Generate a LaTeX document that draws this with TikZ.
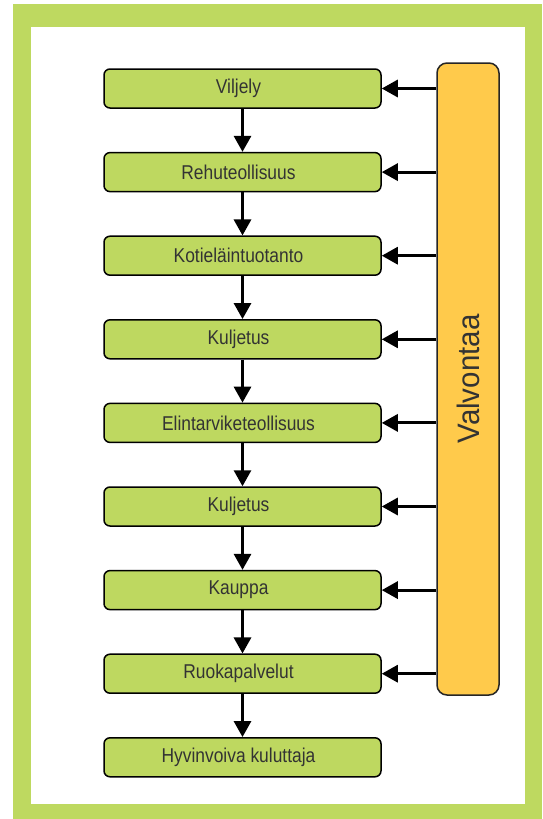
\documentclass[tikz,border=0pt]{standalone}
\usepackage{fontspec}
\setmainfont{Liberation Sans}[FakeStretch=0.87]
\newfontfamily\ctrlfont{Liberation Sans}[FakeStretch=0.95]
\usetikzlibrary{arrows.meta,positioning}

\begin{document}
\begin{tikzpicture}[x=1pt,y=-1pt,>={Triangle[length=16pt,width=17pt]},font=\fontsize{20}{24}\selectfont]
    %--- Theme colors ---
    \definecolor{FrameGreen}{HTML}{BED960}   % outer frame
    \definecolor{StageFill}{HTML}{BED860}    % chain boxes
    \definecolor{CtrlFill}{HTML}{FFCA4B}     % control bar
    \definecolor{TextDark}{HTML}{333333}     % labels
    \tikzset{
      stage/.style={draw=black,line width=1.5pt,fill=StageFill,rounded corners=6pt,
        minimum width=277pt,minimum height=39pt,inner sep=0pt,text=TextDark,
        execute at end node={\hspace*{8pt}}},
      flow/.style={->,line width=3pt}
    }

    %--- Frame ---
    \useasboundingbox (0,0) rectangle (542,819);
    \fill[FrameGreen] (13,4) rectangle (542,819);
    \fill[white] (31,27) rectangle (525,804);

    %--- Chain ---
    \node[stage] (viljely)  at (242.5,88.5)  {Viljely};
    \node[stage] (rehu)     at (242.5,172.1) {Rehuteollisuus};
    \node[stage] (kotiel)   at (242.5,255.7) {Kotieläintuotanto};
    \node[stage] (kulj1)    at (242.5,339.3) {Kuljetus};
    \node[stage] (elint)    at (242.5,422.9) {Elintarviketeollisuus};
    \node[stage] (kulj2)    at (242.5,506.5) {Kuljetus};
    \node[stage] (kauppa)   at (242.5,590.1) {Kauppa};
    \node[stage] (ruoka)    at (242.5,673.7) {Ruokapalvelut};
    \node[stage] (kuluttaja) at (242.5,757.3) {Hyvinvoiva kuluttaja};

    \draw[flow] (viljely) -- (rehu);
    \draw[flow] (rehu) -- (kotiel);
    \draw[flow] (kotiel) -- (kulj1);
    \draw[flow] (kulj1) -- (elint);
    \draw[flow] (elint) -- (kulj2);
    \draw[flow] (kulj2) -- (kauppa);
    \draw[flow] (kauppa) -- (ruoka);
    \draw[flow] (ruoka) -- (kuluttaja);

    %--- Control bar ---
    \node[draw=black!85,line width=1.5pt,fill=CtrlFill,rounded corners=10pt,rotate=90,
      minimum width=632pt,minimum height=62pt,inner sep=0pt,text=TextDark,
      font=\ctrlfont\fontsize{31}{36}\selectfont] (valvonta) at (468,379) {Valvontaa};

    \draw[flow] (valvonta.north |- viljely) -- (viljely.east);
    \draw[flow] (valvonta.north |- rehu) -- (rehu.east);
    \draw[flow] (valvonta.north |- kotiel) -- (kotiel.east);
    \draw[flow] (valvonta.north |- kulj1) -- (kulj1.east);
    \draw[flow] (valvonta.north |- elint) -- (elint.east);
    \draw[flow] (valvonta.north |- kulj2) -- (kulj2.east);
    \draw[flow] (valvonta.north |- kauppa) -- (kauppa.east);
    \draw[flow] (valvonta.north |- ruoka) -- (ruoka.east);
\end{tikzpicture}
\end{document}
